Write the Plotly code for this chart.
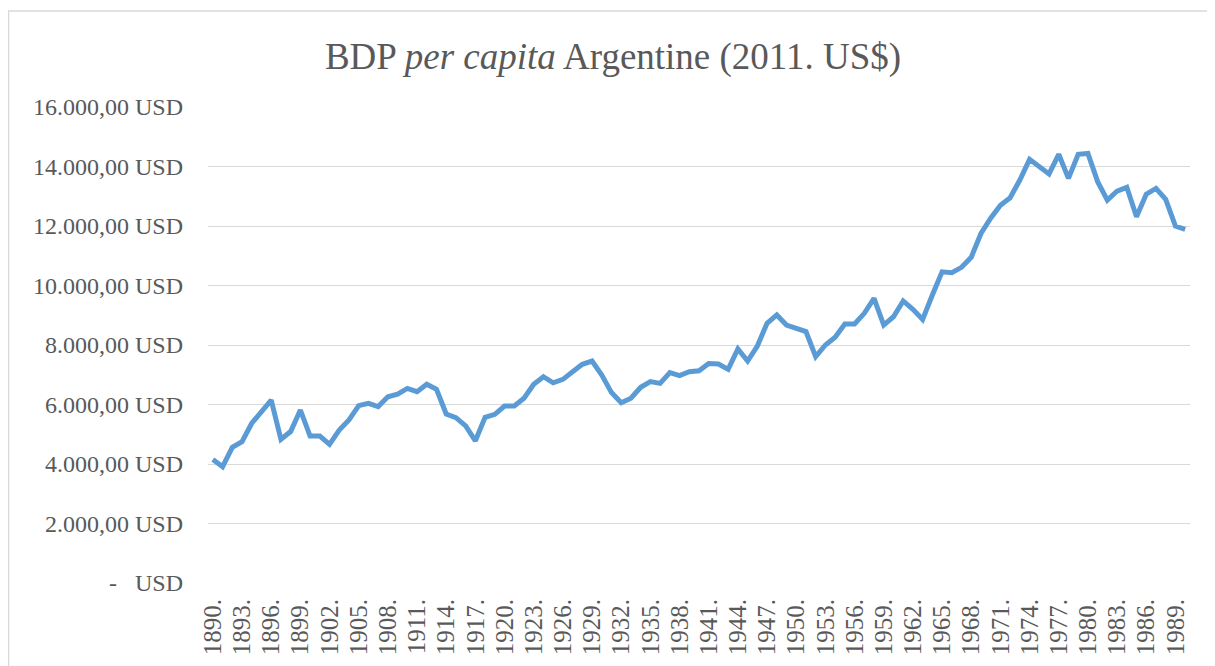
import plotly.graph_objects as go

years = list(range(1890, 1991))
gdp = [4150, 3910, 4560, 4750, 5370, 5790, 6150, 4830, 5090, 5815,
       4940, 4940, 4660, 5140, 5480, 5960, 6040, 5930, 6260, 6350,
       6540, 6430, 6680, 6510, 5680, 5560, 5280, 4780, 5570, 5670,
       5950, 5950, 6210, 6680, 6935, 6730, 6845, 7100, 7350, 7460,
       6990, 6400, 6060, 6210, 6580, 6770, 6710, 7070, 6970, 7100,
       7135, 7380, 7360, 7180, 7865, 7460, 7965, 8730, 9010, 8670,
       8580, 8450, 7610, 8000, 8260, 8705, 8705, 9065, 9570, 8670,
       8950, 9480, 9200, 8860, 9680, 10460, 10430, 10610, 10950, 11750,
       12260, 12700, 12950, 13545, 14240, 13990, 13750, 14410, 13600, 14410,
       14440, 13490, 12870, 13175, 13300, 12310, 13070, 13265, 12895, 12000,
       11890]

tick_years = years[::3]
tick_text = [f"{y}." for y in tick_years]
y_vals = [0, 2000, 4000, 6000, 8000, 10000, 12000, 14000, 16000]
y_text = ["-   USD", "2.000,00 USD", "4.000,00 USD", "6.000,00 USD", "8.000,00 USD",
          "10.000,00 USD", "12.000,00 USD", "14.000,00 USD", "16.000,00 USD"]

FONT = "Liberation Serif"
GRAY = "#595959"

fig = go.Figure()
fig.add_trace(go.Scatter(
    x=years, y=gdp, mode="lines",
    line=dict(color="#5B9BD5", width=5),
    hoverinfo="skip", showlegend=False,
))

# page is offset by the 8px body margin
L, R, T, B = 200, 17, 99, 83
W, H = 1199, 658
pw, ph = W - L - R, H - T - B

fig.update_layout(
    width=W, height=H,
    margin=dict(l=L, r=R, t=T, b=B, autoexpand=False),
    paper_bgcolor="white", plot_bgcolor="white",
    title=dict(text="BDP <i>per capita</i> Argentine (2011. US$)",
               x=(613 - 8) / W, xanchor="center", y=1 - 48 / H, yanchor="middle",
               font=dict(family=FONT, size=37, color=GRAY)),
    font=dict(family=FONT, color=GRAY),
    xaxis=dict(range=[1889.5, 1990.5], tickvals=tick_years, ticktext=tick_text,
               tickangle=-90, tickfont=dict(family=FONT, size=25, color=GRAY),
               showgrid=False, zeroline=False, showline=False, ticks="",
               ticklabelstandoff=10, automargin=False),
    yaxis=dict(range=[0, 16000], tickvals=y_vals, ticktext=y_text,
               tickfont=dict(family=FONT, size=24, color=GRAY),
               showgrid=True, gridcolor="#d9d9d9", gridwidth=1.3,
               zeroline=False, showline=False, ticks="",
               ticklabelstandoff=24, automargin=False),
    shapes=[
        dict(type="rect", xref="paper", yref="paper",
             x0=(0.5 - L) / pw, x1=(1230 - L) / pw,
             y0=(H - B - 690) / ph, y1=(H - B - 3) / ph,
             line=dict(color="#d9d9d9", width=1.5), fillcolor="rgba(0,0,0,0)",
             layer="below"),
    ],
)

fig.write_html("out.html")
